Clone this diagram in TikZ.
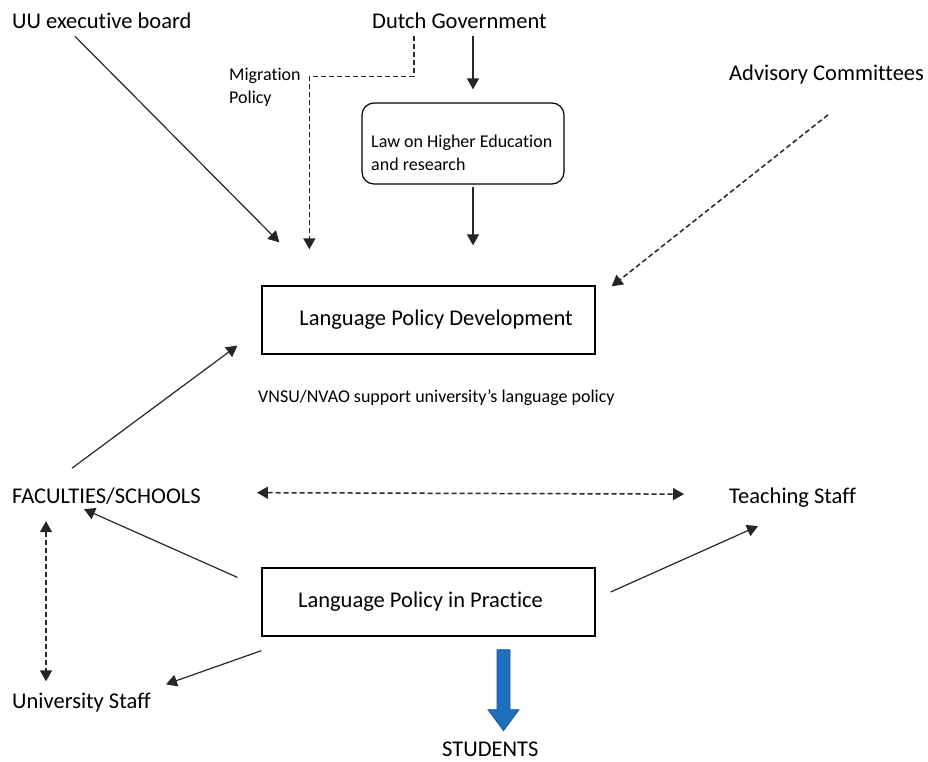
\documentclass[tikz,border=0pt]{standalone}
\usepackage{fontspec}
\setmainfont{Carlito}[Ligatures={NoCommon}]
\usepackage{xcolor}
\usetikzlibrary{arrows.meta,positioning}
\definecolor{stublue}{HTML}{1F6FBF}
\definecolor{stuedge}{HTML}{1A5596}
\definecolor{linegray}{HTML}{262626}

\begin{document}
\begin{tikzpicture}[
x=1pt, y=-1pt,
label/.style={inner sep=0pt, anchor=base west, align=left, font=\fontsize{22.5}{26}\selectfont},
smalllabel/.style={inner sep=0pt, anchor=base west, align=left, font=\fontsize{18}{23}\selectfont},
box/.style={draw, line width=1.3pt, minimum width=333pt, minimum height=68pt, font=\fontsize{22.5}{26}\selectfont},
lawbox/.style={draw, line width=1.2pt, rounded corners=12pt, minimum width=202pt, minimum height=81pt},
arr/.style={-{Triangle[length=11pt,width=12pt]}, line width=1.2pt, linegray},
darr/.style={arr, line width=1.5pt, dash pattern=on 5pt off 3pt},
ddarr/.style={{Triangle[length=11pt,width=12pt]}-{Triangle[length=11pt,width=12pt]}, line width=1.5pt, linegray, dash pattern=on 5pt off 3pt}
]
\useasboundingbox (0,0) rectangle (928,761);
\node[label] (uu) at (12,28) {UU executive board};
\node[label] (gov) at (372,28) {Dutch Government};
\node[label] (adv) at (729,80) {Advisory Committees};
\node[smalllabel] (migr) at (229,103) {Migration\\Policy};
\node[lawbox] (law) at (463,143.5) {};
\node[smalllabel] (lawtext) at (371,170) {Law on Higher Education\\and research};
\node[box] (lpd) at (428.5,320) {\kern15pt Language Policy Development};
\node[smalllabel] (vnsu) at (258,402) {VNSU/NVAO support university's language policy};
\node[label] (fac) at (12,503) {FACULTIES/SCHOOLS};
\node[label] (teach) at (729,503) {Teaching Staff};
\node[box] (lpp) at (428.5,602) {Language Policy in Practice\kern16pt};
\node[label] (ustaff) at (12,708) {University Staff};
\node[label] (stud) at (442,756) {STUDENTS};
% top half
\draw[arr] ([xshift=63pt,yshift=-8pt]uu.south west) -- ([xshift=18pt,yshift=43pt]lpd.north west);
\draw[darr] ([xshift=42pt,yshift=-8pt]gov.south west) -- ++(0,40) -| ([xshift=48pt,yshift=36pt]lpd.north west);
\draw[arr] ([xshift=101pt,yshift=-8pt]gov.south west) -- ([xshift=10pt,yshift=13pt]law.north);
\draw[arr] ([xshift=10pt,yshift=-2pt]law.south) -- ([xshift=44.5pt,yshift=40pt]lpd.north);
\draw[darr] ([xshift=99pt,yshift=-31pt]adv.south west) -- ([xshift=16pt,yshift=-1pt]lpd.north east);
% bottom half
\draw[arr] ([xshift=60pt,yshift=19pt]fac.north west) -- ([xshift=-24pt,yshift=9pt]lpd.south west);
\draw[ddarr] ([xshift=56pt,yshift=3pt]fac.east) -- ([xshift=-45pt,yshift=3pt]teach.west);
\draw[arr] ([xshift=-24pt,yshift=-10pt]lpp.north west) -- ([xshift=72pt,yshift=-5pt]fac.south west);
\draw[arr] ([xshift=15pt,yshift=10pt]lpp.east) -- ([xshift=29pt,yshift=-19pt]teach.south west);
\draw[arr] ([yshift=-14pt]lpp.south west) -- ([xshift=154pt,yshift=8pt]ustaff.north west);
\draw[ddarr] ([xshift=34pt,yshift=-17pt]fac.south west) -- ([xshift=34pt,yshift=11pt]ustaff.north west);
\filldraw[fill=stublue, draw=stuedge, line width=0.8pt] ([xshift=68.5pt,yshift=-13pt]lpp.south) -- ++(13,0) -- ++(0,60) -- ++(9,0) -- ++(-15.5,21) -- ++(-15.5,-21) -- ++(9,0) -- cycle;
\end{tikzpicture}
\end{document}
